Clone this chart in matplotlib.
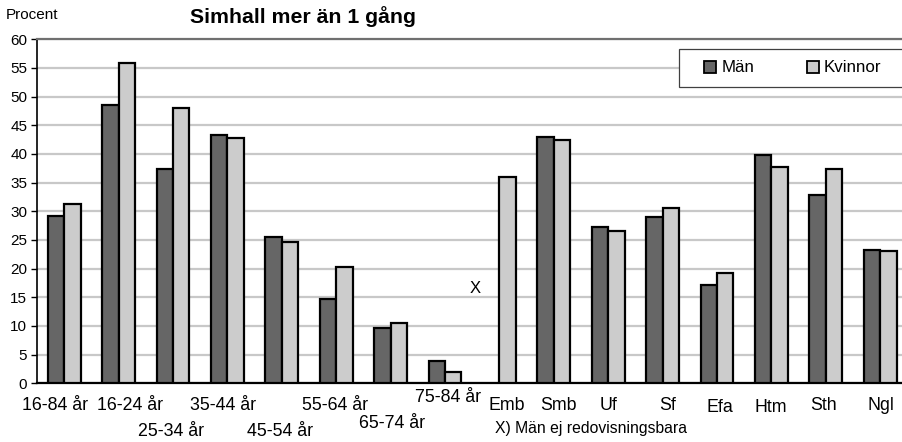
import matplotlib
matplotlib.use("Agg")
import matplotlib.pyplot as plt
import numpy as np
from matplotlib.transforms import blended_transform_factory
from matplotlib.patches import Patch, Rectangle

plt.rcParams['font.family'] = ['Liberation Sans', 'DejaVu Sans']

categories = ["16-84 år", "16-24 år", "25-34 år", "35-44 år", "45-54 år", "55-64 år",
              "65-74 år", "75-84 år", "Emb", "Smb", "Uf", "Sf", "Efa", "Htm", "Sth", "Ngl"]
man = [29.1, 48.5, 37.3, 43.3, 25.6, 14.7, 9.6, 3.9, np.nan, 43.0, 27.3, 29.0, 17.2, 39.9, 32.8, 23.2]
kvinnor = [31.2, 55.8, 48.0, 42.7, 24.6, 20.3, 10.5, 2.0, 35.9, 42.5, 26.5, 30.6, 19.3, 37.7, 37.3, 23.1]
yticks = list(range(0, 61, 5))

# label placement (x offset in category units, y pixel centre)
label_dx = [-0.16, 0.21, -0.04, -0.08, -0.04, -0.02, 0.02, 0.05, 0.13, 0.09, 0.0, 0.09, 0.06, -0.02, -0.04, 0.02]
label_py = [406, 406, 431, 406, 431, 406, 424, 398, 406, 406, 405, 405, 407, 407, 405, 406]

W, H = 903, 442
fig = plt.figure(figsize=(W/100, H/100), dpi=100)
ax = fig.add_axes([37/W, 1-383.3/H, 1-37/W, (383.3-39.3)/H])

x = np.arange(len(categories))
bw = 0.3
ax.bar(x - bw/2, man, bw, color='#666666', edgecolor='black', linewidth=1.6, zorder=3)
ax.bar(x + bw/2, kvinnor, bw, color='#cccccc', edgecolor='black', linewidth=1.6, zorder=3)

ax.set_ylim(0, 60)
ax.set_xlim(-0.5, -0.5 + (W-37)/54.4)
ax.set_yticks(yticks)
ax.yaxis.grid(True, color='#c8c8c8', linewidth=1.6, zorder=0)
ax.set_axisbelow(True)
ax.set_xticks([])
ax.tick_params(axis='y', direction='out', length=4, width=1, labelsize=11, pad=3)
ax.spines['right'].set_visible(False)
ax.spines['top'].set_color('#707070')
ax.spines['top'].set_linewidth(1.6)
ax.spines['left'].set_linewidth(1.2)
ax.spines['bottom'].set_linewidth(1.6)

tr = blended_transform_factory(ax.transData, fig.transFigure)
for i, lab in enumerate(categories):
    fig.text(i + label_dx[i], 1 - label_py[i]/H, lab, transform=tr, ha='center', va='center', fontsize=12.8)

ax.text(7.55, 16.6, "X", ha='center', va='center', fontsize=12)
fig.text(495/W, 1-428/H, "X) Män ej redovisningsbara", ha='left', va='center', fontsize=11.3)
fig.text(6/W, 1-15/H, "Procent", ha='left', va='center', fontsize=11)
fig.text(303/W, 1-17/H, "Simhall mer än 1 gång", ha='center', va='center', fontsize=15.3, fontweight='bold')

# legend frame
fig.patches.append(Rectangle((679/W, 1-87/H), (910-679)/W, 38/H, transform=fig.transFigure,
                             facecolor='white', edgecolor='#404040', linewidth=0.9, zorder=5))
handles = [Patch(facecolor='#666666', edgecolor='black', linewidth=1.3, label='Män'),
           Patch(facecolor='#cccccc', edgecolor='black', linewidth=1.3, label='Kvinnor')]
leg = fig.legend(handles=handles, loc='center left', bbox_to_anchor=(704/W, 1-68/H), ncol=2,
                 frameon=False, fontsize=12.2, handlelength=0.72, handleheight=0.72,
                 handletextpad=0.3, columnspacing=3.1, borderpad=0, borderaxespad=0)
leg.set_zorder(6)

fig.savefig("out.png", dpi=100)
